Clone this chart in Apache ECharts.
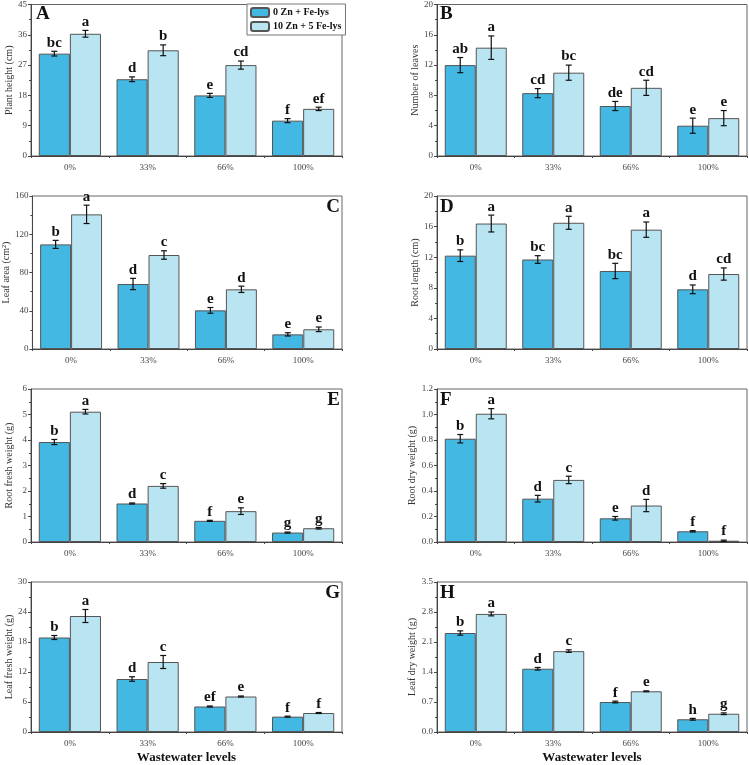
<!DOCTYPE html>
<html><head><meta charset="utf-8">
<script src="https://cdn.jsdelivr.net/npm/echarts@6/dist/echarts.min.js"></script>
<style>html,body{margin:0;padding:0;background:#fff}#c{width:749px;height:765px}</style>
</head><body><div id="c"></div>
<script>
const categories = ['0%', '33%', '66%', '100%'];
const seriesNames = ['0 Zn + Fe-lys', '10 Zn + 5 Fe-lys'];

// A: Plant height
const aCtrl = [30.4, 22.8, 18.0, 10.5], aCtrlErr = [0.7, 0.7, 0.6, 0.6], aCtrlLet = ['bc', 'd', 'e', 'f'];
const aTrt = [36.3, 31.4, 27.0, 14.0], aTrtErr = [1.0, 1.6, 1.2, 0.5], aTrtLet = ['a', 'b', 'cd', 'ef'];
// B: Number of leaves
const bCtrl = [12.0, 8.3, 6.6, 4.0], bCtrlErr = [1.0, 0.6, 0.6, 1.0], bCtrlLet = ['ab', 'cd', 'de', 'e'];
const bTrt = [14.3, 11.0, 9.0, 5.0], bTrtErr = [1.55, 1.0, 1.0, 1.0], bTrtLet = ['a', 'bc', 'cd', 'e'];
// C: Leaf area
const cCtrl = [109.4, 68.0, 40.4, 15.3], cCtrlErr = [4.2, 5.9, 3.0, 1.7], cCtrlLet = ['b', 'd', 'e', 'e'];
const cTrt = [140.8, 98.3, 62.4, 20.6], cTrtErr = [9.6, 4.4, 3.3, 2.4], cTrtLet = ['a', 'c', 'd', 'e'];
// D: Root length
const dCtrl = [12.2, 11.7, 10.2, 7.8], dCtrlErr = [0.76, 0.5, 1.0, 0.57], dCtrlLet = ['b', 'bc', 'bc', 'd'];
const dTrt = [16.4, 16.5, 15.6, 9.8], dTrtErr = [1.1, 0.85, 1.0, 0.8], dTrtLet = ['a', 'a', 'a', 'cd'];
// E: Root fresh weight
const eCtrl = [3.92, 1.51, 0.83, 0.37], eCtrlErr = [0.1, 0.02, 0.02, 0.02], eCtrlLet = ['b', 'd', 'f', 'g'];
const eTrt = [5.11, 2.20, 1.21, 0.54], eTrtErr = [0.09, 0.09, 0.13, 0.03], eTrtLet = ['a', 'c', 'e', 'g'];
// F: Root dry weight
const fCtrl = [0.81, 0.34, 0.186, 0.084], fCtrlErr = [0.033, 0.026, 0.014, 0.005], fCtrlLet = ['b', 'd', 'e', 'f'];
const fTrt = [1.006, 0.487, 0.286, 0.01], fTrtErr = [0.04, 0.029, 0.048, 0.005], fTrtLet = ['a', 'c', 'd', 'f'];
// G: Leaf fresh weight
const gCtrl = [18.9, 10.6, 5.1, 3.07], gCtrlErr = [0.4, 0.45, 0.1, 0.1], gCtrlLet = ['b', 'd', 'ef', 'f'];
const gTrt = [23.2, 14.0, 7.1, 3.8], gTrtErr = [1.3, 1.3, 0.1, 0.1], gTrtLet = ['a', 'c', 'e', 'f'];
// H: Leaf dry weight
const hCtrl = [2.31, 1.476, 0.70, 0.297], hCtrlErr = [0.05, 0.03, 0.02, 0.02], hCtrlLet = ['b', 'd', 'f', 'h'];
const hTrt = [2.755, 1.887, 0.95, 0.426], hTrtErr = [0.045, 0.03, 0.01, 0.02], hTrtLet = ['a', 'c', 'e', 'g'];

const yNames = ['Plant height (cm)', 'Number of leaves', 'Leaf area (cm²)', 'Root length (cm)',
  'Root fresh weight (g)', 'Root dry weight (g)', 'Leaf fresh weight (g)', 'Leaf dry weight (g)'];
const yMaxes = [45, 20, 160, 20, 6, 1.2, 30, 3.5];
const yIntervals = [9, 4, 40, 4, 1, 0.2, 6, 0.7];
const yDecimals = [0, 0, 0, 0, 0, 1, 0, 1];
const panelLetters = ['A', 'B', 'C', 'D', 'E', 'F', 'G', 'H'];

const panels = [
  [aCtrl, aCtrlErr, aCtrlLet, aTrt, aTrtErr, aTrtLet],
  [bCtrl, bCtrlErr, bCtrlLet, bTrt, bTrtErr, bTrtLet],
  [cCtrl, cCtrlErr, cCtrlLet, cTrt, cTrtErr, cTrtLet],
  [dCtrl, dCtrlErr, dCtrlLet, dTrt, dTrtErr, dTrtLet],
  [eCtrl, eCtrlErr, eCtrlLet, eTrt, eTrtErr, eTrtLet],
  [fCtrl, fCtrlErr, fCtrlLet, fTrt, fTrtErr, fTrtLet],
  [gCtrl, gCtrlErr, gCtrlLet, gTrt, gTrtErr, gTrtLet],
  [hCtrl, hCtrlErr, hCtrlLet, hTrt, hTrtErr, hTrtLet]
];

const SERIF = 'Liberation Serif, Times New Roman, serif';
const COL_DARK = '#42B8E3', COL_LIGHT = '#B9E4F2';
const colLeft = [31, 437], colWidth = [311, 310];
const rowTop = [3, 196, 389, 582], rowHeight = 153;

const grid = [], xAxis = [], yAxis = [], series = [], graphic = [];

function makeErr(letters, sign) {
  return function (params, api) {
    const cat = api.value(0), val = api.value(1), err = api.value(2);
    const band = api.size([1, 0])[0];
    const off = sign * band * 0.2;
    const top = api.coord([cat, val + err]);
    const bot = api.coord([cat, Math.max(0, val - err)]);
    const x = top[0] + off;
    const cap = 3;
    const ls = { stroke: '#111', lineWidth: 1.2 };
    return {
      type: 'group',
      children: [
        { type: 'line', shape: { x1: x, y1: top[1], x2: x, y2: bot[1] }, style: ls },
        { type: 'line', shape: { x1: x - cap, y1: top[1], x2: x + cap, y2: top[1] }, style: ls },
        { type: 'line', shape: { x1: x - cap, y1: bot[1], x2: x + cap, y2: bot[1] }, style: ls },
        { type: 'text', x: x, y: top[1] - 1, style: { text: letters[params.dataIndex], fill: '#111',
          font: 'bold 15px ' + SERIF, textAlign: 'center', textVerticalAlign: 'bottom' } }
      ]
    };
  };
}

panels.forEach((p, i) => {
  const col = i % 2, row = Math.floor(i / 2);
  grid.push({ left: colLeft[col], top: rowTop[row], width: colWidth[col], height: rowHeight,
    show: true, borderColor: '#666', borderWidth: 1, backgroundColor: 'transparent' });
  const isBottom = row === 3;
  xAxis.push({ type: 'category', gridIndex: i, data: categories,
    axisLine: { lineStyle: { color: '#444', width: 1 } },
    axisTick: { alignWithLabel: true, length: 3, lineStyle: { color: '#444' } },
    axisLabel: { fontFamily: SERIF, fontSize: 9, color: '#444', margin: 7 },
    name: isBottom ? 'Wastewater levels' : '', nameLocation: 'middle', nameGap: 19,
    nameTextStyle: { fontFamily: SERIF, fontSize: 13, fontWeight: 'bold', color: '#111' } });
  xAxis.push({ type: 'value', gridIndex: i, min: 0, max: 4, interval: 1, position: 'bottom',
    axisLine: { show: false }, axisLabel: { show: false }, splitLine: { show: false },
    axisTick: { show: true, length: 2, lineStyle: { color: '#444' } } });
  const dec = yDecimals[i];
  yAxis.push({ type: 'value', gridIndex: i, min: 0, max: yMaxes[i], interval: yIntervals[i],
    name: yNames[i], nameLocation: 'middle', nameGap: 17,
    nameTextStyle: { fontFamily: SERIF, fontSize: 10, color: '#333' },
    axisLine: { show: true, lineStyle: { color: '#444' } },
    axisTick: { show: true, length: 3, lineStyle: { color: '#444' } },
    minorTick: { show: true, splitNumber: 2, length: 2, lineStyle: { color: '#444' } },
    splitLine: { show: false },
    axisLabel: { fontFamily: SERIF, fontSize: 9, color: '#444', margin: 4,
      formatter: v => v.toFixed(dec) } });
  const [c, ce, cl, t, te, tl] = p;
  series.push({ type: 'bar', name: seriesNames[0], xAxisIndex: 2 * i, yAxisIndex: i, data: c,
    barGap: '0%', barCategoryGap: '20%',
    itemStyle: { color: COL_DARK, borderColor: '#555', borderWidth: 1 } });
  series.push({ type: 'bar', name: seriesNames[1], xAxisIndex: 2 * i, yAxisIndex: i, data: t,
    barGap: '0%', barCategoryGap: '20%',
    itemStyle: { color: COL_LIGHT, borderColor: '#555', borderWidth: 1 } });
  series.push({ type: 'custom', xAxisIndex: 2 * i, yAxisIndex: i, z: 5,
    data: c.map((v, k) => [k, v, ce[k]]), renderItem: makeErr(cl, -1) });
  series.push({ type: 'custom', xAxisIndex: 2 * i, yAxisIndex: i, z: 5,
    data: t.map((v, k) => [k, v, te[k]]), renderItem: makeErr(tl, 1) });
  const rightAligned = col === 0 && i !== 0;
  graphic.push({ type: 'text',
    x: rightAligned ? colLeft[col] + colWidth[col] - 2 : colLeft[col] + (i === 0 ? 5 : 3),
    y: rowTop[row] + 2,
    style: { text: panelLetters[i], font: 'bold 19px ' + SERIF, fill: '#111',
      textAlign: rightAligned ? 'right' : 'left', textVerticalAlign: 'top' } });
});

const option = {
  animation: false,
  backgroundColor: '#fff',
  grid, xAxis, yAxis, series, graphic,
  legend: { data: seriesNames, orient: 'vertical', left: 247, top: 4, width: 95,
    itemWidth: 18, itemHeight: 9, itemGap: 3, padding: [3, 4, 3, 3],
    borderColor: '#777', borderWidth: 1, backgroundColor: '#fff',
    textStyle: { fontFamily: SERIF, fontSize: 10, fontWeight: 'bold', color: '#111', padding: [0, 0, 0, -1] } }
};

const chart = echarts.init(document.getElementById('c'), null, { renderer: 'canvas' });
chart.setOption(option);
</script></body></html>
